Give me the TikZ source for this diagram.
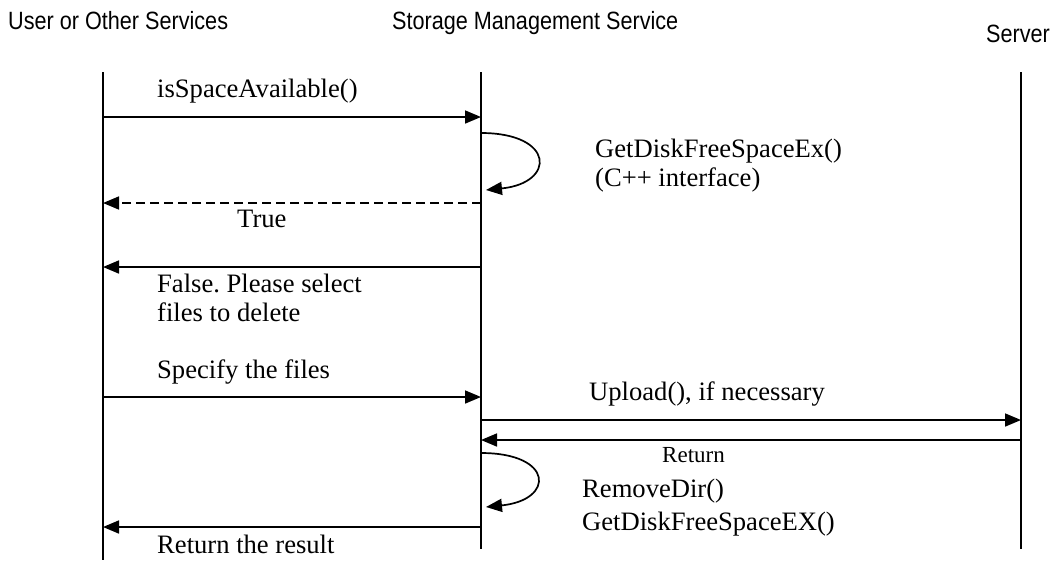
\documentclass[tikz,border=0pt]{standalone}
\usepackage{fontspec}
\usepackage{graphicx}
\setmainfont{Liberation Serif}
\newfontfamily\hdrfont{Liberation Sans}
\usetikzlibrary{arrows.meta}
\frenchspacing
\newcommand\hdrtxt[1]{\scalebox{0.865}[1]{#1}}
\tikzset{
  hdr/.style={anchor=base west, inner sep=0pt, font=\hdrfont\fontsize{25}{30}\selectfont},
  lbl/.style={anchor=base west, inner sep=0pt, font=\fontsize{26.6}{30}\selectfont},
  smalllbl/.style={anchor=base west, inner sep=0pt, font=\fontsize{23}{27}\selectfont},
  life/.style={line width=1.5pt},
  msg/.style={line width=1.7pt, -{Triangle[length=16pt,width=13pt]}},
  ret/.style={msg, dash pattern=on 9pt off 5pt},
}
\begin{document}
\begin{tikzpicture}[x=1pt,y=-1pt]
\useasboundingbox (0,0) rectangle (1054,560);
% headers
\node[hdr] (userH) at (8,29) {\hdrtxt{User or Other Services}};
\node[hdr] (smsH) at (392,29) {\hdrtxt{Storage Management Service}};
\node[hdr] (srvH) at (986,42) {\hdrtxt{Server}};
% lifelines
\coordinate (uTop) at (103,72);  \coordinate (uBot) at (103,560);
\coordinate (sTop) at (481,72);  \coordinate (sBot) at (481,549);
\coordinate (vTop) at (1021,72); \coordinate (vBot) at (1021,549);
\draw[life] (uTop) -- (uBot);
\draw[life] (sTop) -- (sBot);
\draw[life] (vTop) -- (vBot);
% message points
\coordinate (u1) at (103,117); \coordinate (s1) at (481,117);
\coordinate (l1a) at (481,133); \coordinate (l1b) at (486,190);
\coordinate (u2) at (103,203); \coordinate (s2) at (481,203);
\coordinate (u3) at (103,267); \coordinate (s3) at (481,267);
\coordinate (u4) at (103,397); \coordinate (s4) at (481,397);
\coordinate (s5) at (481,420); \coordinate (v5) at (1021,420);
\coordinate (s6) at (481,440); \coordinate (v6) at (1021,440);
\coordinate (l2a) at (481,453); \coordinate (l2b) at (486,507);
\coordinate (u7) at (103,527); \coordinate (s7) at (481,527);
% messages
\draw[msg] (u1) -- (s1);
\draw[msg] (l1a) .. controls (555,133) and (556,183) .. (l1b);
\draw[ret] (s2) -- (u2);
\draw[msg] (s3) -- (u3);
\draw[msg] (u4) -- (s4);
\draw[msg] (s5) -- (v5);
\draw[msg] (v6) -- (s6);
\draw[msg] (l2a) .. controls (554,453) and (555,500) .. (l2b);
\draw[msg] (s7) -- (u7);
% labels
\node[lbl] (t1) at (157,97) {isSpaceAvailable()};
\node[lbl] (t2) at (595,157) {GetDiskFreeSpaceEx()};
\node[lbl] (t2b) at (595,186) {(C++ interface)};
\node[lbl] (t3) at (237,227) {True};
\node[lbl] (t4) at (157,292) {False. Please select};
\node[lbl] (t4b) at (157,321) {files to delete};
\node[lbl] (t5) at (157,378) {Specify the files};
\node[lbl] (t6) at (589,400) {Upload(), if necessary};
\node[smalllbl] (t7) at (662,462) {Return};
\node[lbl] (t8) at (582,497) {RemoveDir()};
\node[lbl] (t8b) at (582,530) {GetDiskFreeSpaceEX()};
\node[lbl] (t9) at (157,553) {Return the result};
\end{tikzpicture}
\end{document}
